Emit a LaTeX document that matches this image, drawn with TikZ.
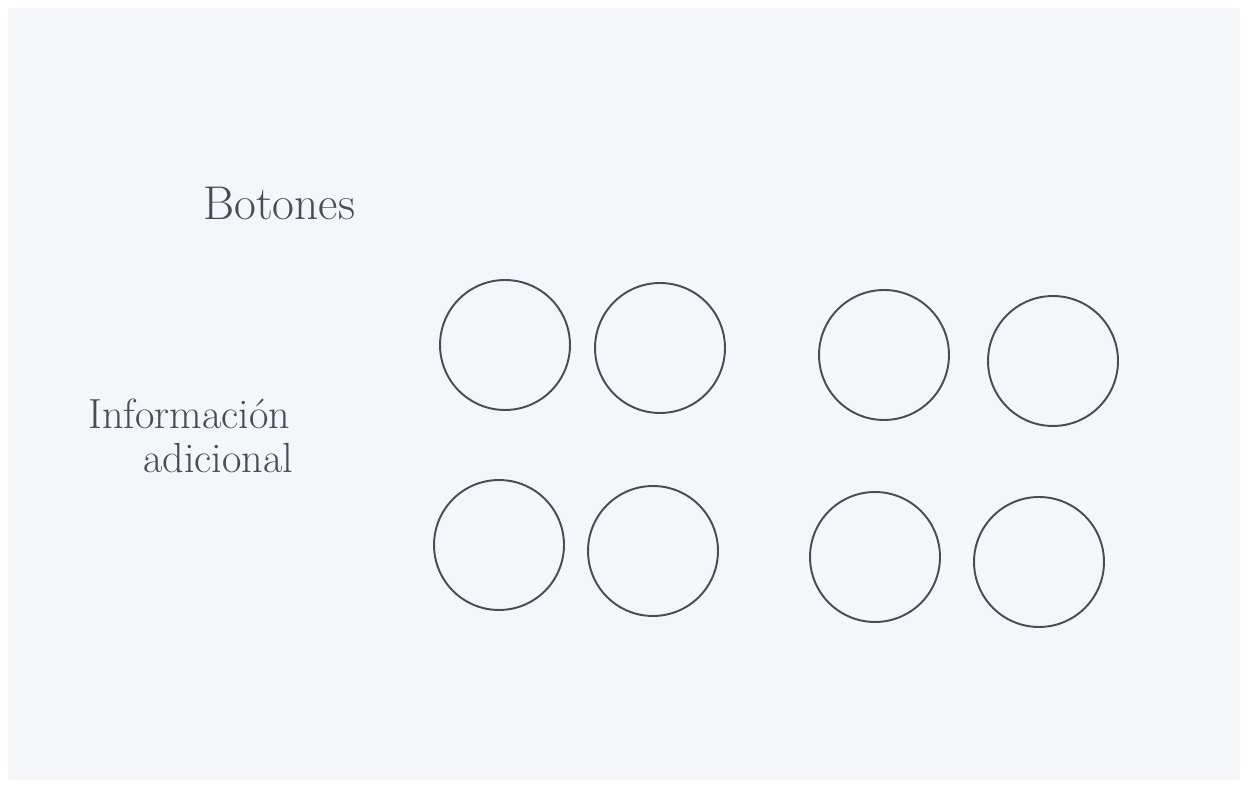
\documentclass[tikz,border=0pt]{standalone}
\usepackage{xcolor}
\usepackage{tikz}
\usetikzlibrary{positioning}
\definecolor{SketchPaper}{HTML}{F5F6F9}
\definecolor{SketchInk}{HTML}{4A4A58}
\tikzset{
  btn/.style={circle,draw=SketchInk,line width=1.1pt,minimum size=2.6cm,inner sep=0pt},
  note/.style={text=SketchInk,inner sep=0pt}
}

\begin{document}
\begin{tikzpicture}[x=0.02cm,y=-0.02cm]
  \fill[white] (0,0) rectangle (1247,786);
  \fill[SketchPaper] (8,8) rectangle (1240,780);
  \node[note,font=\fontsize{27}{30}\selectfont,anchor=west] (titulo) at (203,203) {Botones};
  \node[note,font=\fontsize{24}{26}\selectfont,align=left,anchor=west] (info) at (88,436)
    {Información\\[-1pt]\hspace{1.3em}adicional};
  \foreach \n/\x/\y in {1/505/345,2/660/348,3/884/355,4/1053/361,
                        5/499/545,6/653/551,7/875/557,8/1039/562}{
    \node[btn] (b\n) at (\x,\y) {};
  }
\end{tikzpicture}
\end{document}
